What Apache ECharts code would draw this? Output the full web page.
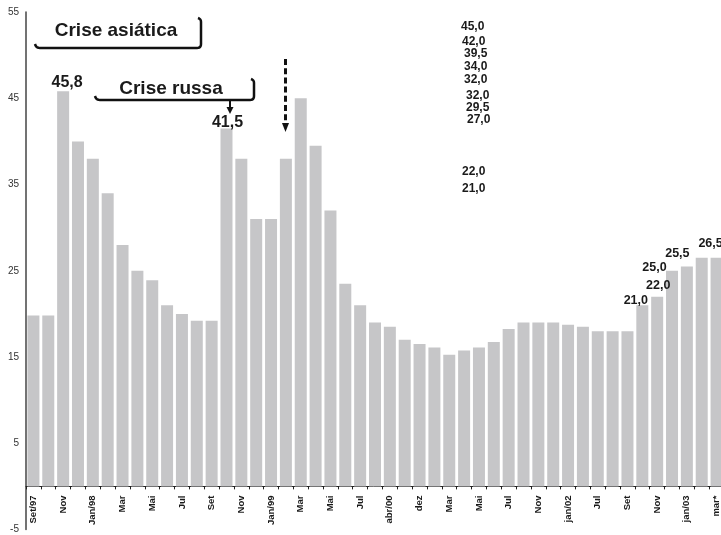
<!DOCTYPE html>
<html>
<head>
<meta charset="utf-8">
<script src="https://cdn.jsdelivr.net/npm/echarts@6/dist/echarts.min.js"></script>
<style>
  html, body { margin: 0; padding: 0; background: #fff; }
  #chart { width: 721px; height: 535px; }
</style>
</head>
<body>
<div id="chart"></div>
<script>
// Monthly reference rate (% a.a.), Set/97 to mar/03
const categories = [
  'Set/97', 'Out', 'Nov', 'Dez', 'Jan/98', 'Fev', 'Mar', 'Abr', 'Mai', 'Jun',
  'Jul', 'Ago', 'Set', 'Out', 'Nov', 'Dez', 'Jan/99', 'Fev', 'Mar', 'Abr',
  'Mai', 'Jun', 'Jul', 'out/99', 'abr/00', 'jul/00', 'dez', 'fev', 'Mar', 'Abr',
  'Mai', 'Jun', 'Jul', 'Set', 'Nov', 'dez/01', 'jan/02', 'abr', 'Jul', 'Ago',
  'Set', 'Out', 'Nov', 'Dez', 'jan/03', 'fev', 'mar*'
];
const rates = [
  19.8, 19.8, 45.8, 40.0, 38.0, 34.0, 28.0, 25.0, 23.9, 21.0,
  20.0, 19.2, 19.2, 41.5, 38.0, 31.0, 31.0, 38.0, 45.0, 39.5,
  32.0, 23.5, 21.0, 19.0, 18.5, 17.0, 16.5, 16.1, 15.25, 15.75,
  16.1, 16.75, 18.25, 19.0, 19.0, 19.0, 18.75, 18.5, 18.0, 18.0,
  18.0, 21.0, 22.0, 25.0, 25.5, 26.5, 26.5
];
// Bars whose value is written above them (index into rates)
const labelledBars = [2, 13, 41, 42, 43, 44, 46];
// Free-standing column of rates written in the upper middle of the plot
const sideNotes = ['45,0', '42,0', '39,5', '34,0', '32,0', '32,0', '29,5', '27,0', '22,0', '21,0'];
const annotations = ['Crise asiática', 'Crise russa'];

const FONT = '"Liberation Sans", Arial, sans-serif';
const fmt = v => v.toFixed(1).replace('.', ',');

// label placement tweaks for the labelled bars
const labelStyle = {
  2:  { fontSize: 16, offset: [4, -1] },
  13: { fontSize: 16, offset: [1, 2] },
  41: { fontSize: 12.5, offset: [-6.5, 1.5] },
  42: { fontSize: 12.5, offset: [1, -5] },
  43: { fontSize: 12.5, offset: [-17.5, 3] },
  44: { fontSize: 12.5, offset: [-9.5, -6.5] },
  46: { fontSize: 12.5, offset: [-6, -8] }
};

const barData = rates.map((v, i) => {
  if (labelledBars.indexOf(i) < 0) return v;
  const s = labelStyle[i];
  return {
    value: v,
    label: {
      show: true, position: 'top', distance: 0,
      formatter: p => fmt(p.value),
      fontSize: s.fontSize, fontWeight: 'bold', color: '#1a1a1a',
      fontFamily: FONT, offset: s.offset
    }
  };
});

// positions of the free-standing notes
const sidePos = [[461, 27], [462, 42], [464, 54], [464, 67], [464, 80],
                 [466, 96], [466, 108], [467, 120], [462, 172], [462, 189]];

const graphics = [];
sideNotes.forEach((t, i) => {
  graphics.push({
    type: 'text', x: sidePos[i][0], y: sidePos[i][1],
    style: { text: t, font: 'bold 12px ' + FONT, fill: '#1a1a1a', textAlign: 'left', textVerticalAlign: 'middle' }
  });
});

// polyline through straight segments with small quadratic rounding at the given corners
function rounded(pts) {
  const out = [];
  for (let i = 0; i < pts.length; i++) {
    const p = pts[i];
    if (p.length === 2) { out.push(p); continue; }
    // [cx, cy, 'q', ex, ey] : quadratic from previous point via control (cx,cy) to (ex,ey)
    const s = out[out.length - 1];
    for (let k = 1; k <= 6; k++) {
      const t = k / 6, u = 1 - t;
      out.push([u * u * s[0] + 2 * u * t * p[0] + t * t * p[3],
                u * u * s[1] + 2 * u * t * p[1] + t * t * p[4]]);
    }
  }
  return out;
}

// callout boxes (shadowed edge only: bottom + right, rounded)
graphics.push({
  type: 'polyline',
  shape: { points: rounded([[35, 44], [36, 48, 'q', 40, 48], [197, 48], [201, 48, 'q', 201, 44], [201, 22], [201, 19, 'q', 198, 18]]) },
  style: { fill: null, stroke: '#111', lineWidth: 2.5 }
});
graphics.push({
  type: 'polyline',
  shape: { points: rounded([[95, 96], [96, 100, 'q', 100, 100], [250, 100], [254, 100, 'q', 254, 96], [254, 83], [254, 80, 'q', 251, 79]]) },
  style: { fill: null, stroke: '#111', lineWidth: 2.5 }
});
graphics.push({
  type: 'text', x: 116, y: 31,
  style: { text: annotations[0], font: 'bold 19px ' + FONT, fill: '#1a1a1a', textAlign: 'center', textVerticalAlign: 'middle' }
});
graphics.push({
  type: 'text', x: 171, y: 89,
  style: { text: annotations[1], font: 'bold 19px ' + FONT, fill: '#1a1a1a', textAlign: 'center', textVerticalAlign: 'middle' }
});

// solid arrow under "Crise russa"
graphics.push({
  type: 'line', shape: { x1: 230, y1: 100, x2: 230, y2: 108 },
  style: { stroke: '#111', lineWidth: 2 }
});
graphics.push({
  type: 'polygon', shape: { points: [[226.5, 107], [233.5, 107], [230, 114]] },
  style: { fill: '#111' }
});
// dashed arrow
graphics.push({
  type: 'line', shape: { x1: 285.5, y1: 59, x2: 285.5, y2: 124 },
  style: { stroke: '#111', lineWidth: 3, lineDash: [6, 3.2] }
});
graphics.push({
  type: 'polygon', shape: { points: [[282, 123], [289, 123], [285.5, 132]] },
  style: { fill: '#111' }
});

const chart = echarts.init(document.getElementById('chart'), null, { renderer: 'canvas' });
chart.setOption({
  animation: false,
  backgroundColor: '#fff',
  grid: { left: 26, right: -3, top: 12, bottom: 5.5, containLabel: false, outerBoundsMode: 'none' },
  xAxis: {
    type: 'category',
    data: categories,
    axisLine: { show: true, onZero: true, lineStyle: { color: '#222', width: 1 } },
    axisTick: { show: true, interval: 0, length: 3, lineStyle: { color: '#222' } },
    axisLabel: {
      interval: 1, rotate: 90, margin: -34,
      fontSize: 9.5, fontWeight: 'bold', color: '#1a1a1a', fontFamily: FONT
    },
    splitLine: { show: false }
  },
  yAxis: {
    type: 'value',
    min: -5, max: 55, interval: 5,
    axisLine: { show: true, lineStyle: { color: '#444', width: 1.5 } },
    axisTick: { show: false },
    splitLine: { show: false },
    axisLabel: {
      margin: 7, fontSize: 10, color: '#333', fontFamily: FONT,
      formatter: v => ((v + 5) % 10 === 0 ? String(v) : '')
    }
  },
  series: [{
    type: 'bar',
    data: barData,
    barWidth: 12,
    itemStyle: { color: '#c6c6c8' }
  }],
  graphic: graphics
});
</script>
</body>
</html>
